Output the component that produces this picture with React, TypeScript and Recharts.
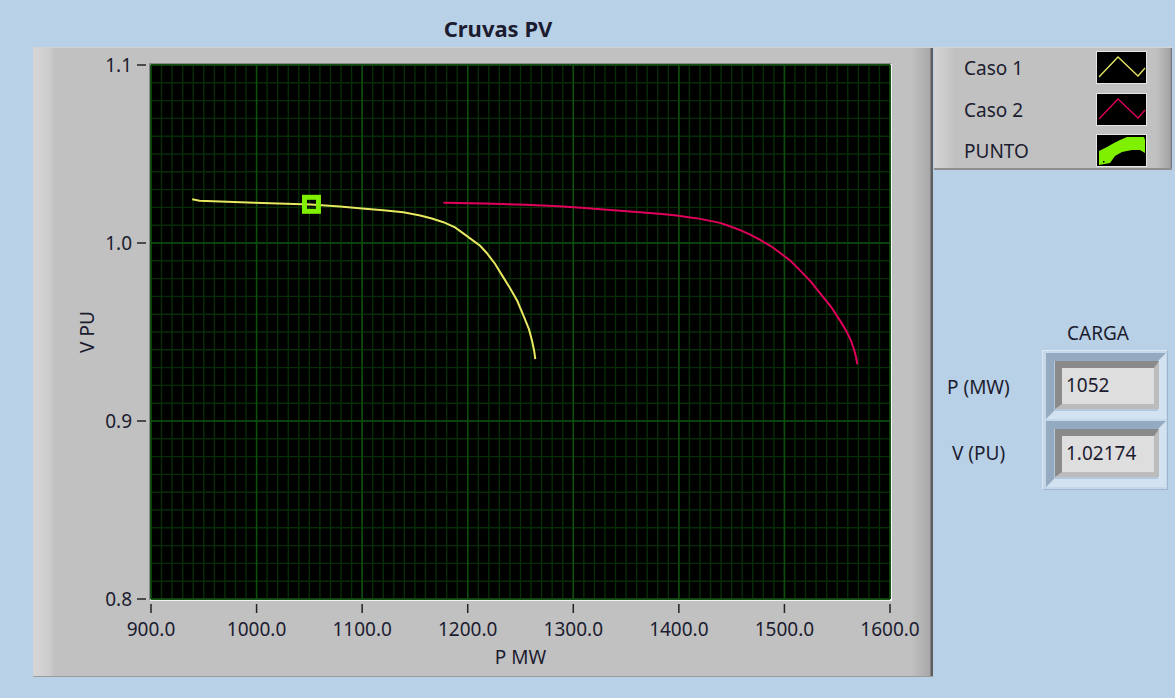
import React from 'react'
import { ComposedChart, Line, Scatter, XAxis, YAxis, CartesianGrid } from 'recharts'

// curva PV, caso 1 (P en MW, V en pu)
const caso1P = [939, 946, 998, 1051, 1079, 1100, 1120, 1139, 1155, 1166, 1177, 1188, 1200, 1212, 1218, 1226, 1233, 1240, 1247, 1253, 1258, 1261, 1263, 1264]
const caso1V = [1.0246, 1.0238, 1.0226, 1.0216, 1.0205, 1.0194, 1.0184, 1.0173, 1.0155, 1.0138, 1.0117, 1.0088, 1.0036, 0.9983, 0.9944, 0.9882, 0.9814, 0.9747, 0.9674, 0.9589, 0.9516, 0.9449, 0.9392, 0.9347]

// curva PV, caso 2
const caso2P = [1177, 1215, 1254, 1286, 1311, 1335, 1360, 1384, 1398, 1409, 1419, 1439, 1449, 1458, 1468, 1477, 1487, 1496, 1506, 1515, 1525, 1534, 1544, 1553, 1559, 1563, 1566, 1568, 1569]
const caso2V = [1.0226, 1.0222, 1.0215, 1.0207, 1.0197, 1.0186, 1.0174, 1.0163, 1.0154, 1.0145, 1.0137, 1.0113, 1.0093, 1.0072, 1.0046, 1.0017, 0.9983, 0.9944, 0.9899, 0.9845, 0.9783, 0.9716, 0.9643, 0.9561, 0.9502, 0.9452, 0.94, 0.9355, 0.9319]

// punto de carga actual
const cargaP = 1052
const cargaV = 1.02174

const xTicks = [900, 1000, 1100, 1200, 1300, 1400, 1500, 1600]
const yTicks = [0.8, 0.9, 1.0, 1.1]
// rejilla fina: cada 10 MW y cada 0.01 pu
const xMinor = Array.from({ length: 71 }, (_, i) => 900 + i * 10)
const yMinor = Array.from({ length: 31 }, (_, i) => Math.round((0.8 + i * 0.01) * 1000) / 1000)

const caso1 = caso1P.map((p, i) => ({ p, v: caso1V[i] }))
const caso2 = caso2P.map((p, i) => ({ p, v: caso2V[i] }))
const punto = [{ p: cargaP, v: cargaV }]

const FONT = '"Noto Sans", "Open Sans", sans-serif'
const INK = '#1c1c30'
const YELLOW = '#e8e860'
const RED = '#e0005c'
const GREEN = '#7ff000'

const YTick = (props: any) => {
  const { x, y, payload } = props
  return (
    <g>
      <line x1={x + 5} x2={x + 14} y1={y} y2={y} stroke="#222" strokeWidth={1.5} />
      <text x={x} y={y} dy="0.35em" textAnchor="end" fill={INK} fontSize={19} fontFamily={FONT}>
        {Number(payload.value).toFixed(1)}
      </text>
    </g>
  )
}

const XTick = (props: any) => {
  const { x, y, payload } = props
  return (
    <g>
      <line x1={x} x2={x} y1={y - 9} y2={y} stroke="#222" strokeWidth={1.5} />
      <text x={x} y={y + 23} textAnchor="middle" fill={INK} fontSize={19} fontFamily={FONT}>
        {Number(payload.value).toFixed(1)}
      </text>
    </g>
  )
}

const PuntoShape = (props: any) => {
  const { cx, cy } = props
  return <rect x={cx - 7} y={cy - 7} width={14} height={14} fill="none" stroke={GREEN} strokeWidth={5} />
}

const Swatch: React.FC<{ kind: string; color: string }> = ({ kind, color }) => (
  <svg width={51} height={33} style={{ display: 'block' }}>
    <rect x={0.5} y={0.5} width={50} height={32} fill="#000" stroke="#e4e4e4" strokeWidth={1} />
    {kind === 'line' ? (
      <polyline points="3,26 22,6 42,25 49,17" fill="none" stroke={color} strokeWidth={1.3} />
    ) : (
      <g>
        <path
          d="M3,17 L11,13 L18,9 L24,6 L31,3 L48,3 L49,6 L49,19 L44,16 L36,16 L26,18 L19,22 L14,29 L3,31 Z"
          fill={color}
        />
        <rect x={7} y={27} width={1.5} height={1.5} fill="#000" />
      </g>
    )}
  </svg>
)

const legendItems = [
  { name: 'Caso 1', kind: 'line', color: YELLOW },
  { name: 'Caso 2', kind: 'line', color: RED },
  { name: 'PUNTO', kind: 'fill', color: GREEN },
]

const Indicator: React.FC<{ top: number; value: string }> = ({ top, value }) => (
  <div
    style={{
      position: 'absolute',
      left: 1046,
      top,
      width: 104,
      height: 50,
      borderStyle: 'solid',
      borderWidth: 8,
      borderColor: '#93aac0 #d3e2f0 #d3e2f0 #93aac0',
      background: '#b3c8dc',
    }}
  >
    <div
      style={{
        position: 'absolute',
        left: 1,
        top: 0,
        width: 88,
        height: 36,
        borderStyle: 'solid',
        borderWidth: '7px 5px 5px 7px',
        borderColor: '#8a8a8a #bcbcbc #bcbcbc #8a8a8a',
        background: '#dedede',
        fontFamily: FONT,
        fontSize: 19,
        lineHeight: '34px',
        color: INK,
        paddingLeft: 4,
        boxSizing: 'content-box',
      }}
    >
      {value}
    </div>
  </div>
)

const App: React.FC = () => {
  return (
    <div
      style={{
        position: 'absolute',
        left: 0,
        top: 0,
        width: 1175,
        height: 698,
        background: '#b9d1e6',
        overflow: 'hidden',
        fontFamily: FONT,
        color: INK,
      }}
    >
      {/* panel gris del grafico */}
      <div
        style={{
          position: 'absolute',
          left: 33,
          top: 47,
          width: 900,
          height: 630,
          background:
            'linear-gradient(to right, #d6d6d6 0px, #cdcdcd 16px, #c1c1c1 22px, #c1c1c1 878px, #a8a8a8 897px, #5e5e5e 898px, #5e5e5e 900px)',
          borderTop: '1px solid #d2d2d2',
          borderBottom: '1px solid #9c9c9c',
          boxSizing: 'border-box',
        }}
      />
      <div
        style={{
          position: 'absolute',
          left: 398,
          top: 14,
          width: 200,
          textAlign: 'center',
          fontWeight: 700,
          fontSize: 22,
          lineHeight: '28px',
        }}
      >
        Cruvas PV
      </div>
      {/* marco hundido del area de trazado */}
      <div
        style={{
          position: 'absolute',
          left: 149,
          top: 63,
          width: 739,
          height: 534,
          borderStyle: 'solid',
          borderWidth: 2,
          borderColor: '#8a8a8a #f2f2f2 #f2f2f2 #8a8a8a',
        }}
      />
      <div style={{ position: 'absolute', left: 0, top: 0 }}>
        <ComposedChart
          width={1175}
          height={698}
          margin={{ top: 65, right: 285, bottom: 29, left: 23 }}
          style={{ fontFamily: FONT }}
        >
          <CartesianGrid fill="#000" stroke="#072d07" strokeWidth={1.4} verticalValues={xMinor} horizontalValues={yMinor} />
          <CartesianGrid stroke="#0e4e0e" strokeWidth={1.5} />
          <XAxis
            type="number"
            dataKey="p"
            domain={[900, 1600]}
            ticks={xTicks}
            interval={0}
            allowDataOverflow
            height={70}
            tickSize={4}
            tickMargin={10}
            tickLine={false}
            axisLine={false}
            tick={<XTick />}
            label={{ value: 'P MW', position: 'insideBottom', offset: 5, fill: INK, fontSize: 19, fontFamily: FONT }}
          />
          <YAxis
            type="number"
            dataKey="v"
            domain={[0.8, 1.1]}
            ticks={yTicks}
            interval={0}
            allowDataOverflow
            width={128}
            tickSize={4}
            tickMargin={15}
            tickLine={false}
            axisLine={false}
            tick={<YTick />}
            label={{ value: 'V PU', angle: -90, position: 'center', fill: INK, fontSize: 19, fontFamily: FONT }}
          />
          <Line data={caso1} dataKey="v" name="Caso 1" type="linear" stroke={YELLOW} strokeWidth={2} dot={false} isAnimationActive={false} />
          <Line data={caso2} dataKey="v" name="Caso 2" type="linear" stroke={RED} strokeWidth={2} dot={false} isAnimationActive={false} />
          <Scatter data={punto} dataKey="v" name="PUNTO" fill={GREEN} shape={<PuntoShape />} isAnimationActive={false} />
        </ComposedChart>
      </div>
      {/* leyenda */}
      <div
        style={{
          position: 'absolute',
          left: 934,
          top: 47,
          width: 238,
          height: 123,
          background:
            'linear-gradient(to right, #d4d4d4 0px, #c9c9c9 14px, #c1c1c1 20px, #c1c1c1 222px, #a4a4a4 236px, #6a6a6a 238px)',
          borderBottom: '2px solid #8e8e8e',
          borderTop: '1px solid #d4d4d4',
          boxSizing: 'border-box',
        }}
      >
        {legendItems.map((it, i) => (
          <div key={it.name} style={{ position: 'absolute', left: 0, top: 3 + i * 41.5, width: 238, height: 34 }}>
            <div style={{ position: 'absolute', left: 30, top: 0, fontSize: 19, lineHeight: '34px' }}>{it.name}</div>
            <div style={{ position: 'absolute', left: 162, top: 0 }}>
              <Swatch kind={it.kind} color={it.color} />
            </div>
          </div>
        ))}
      </div>
      {/* indicadores de carga */}
      <div style={{ position: 'absolute', left: 1048, top: 319, width: 100, textAlign: 'center', fontSize: 19, lineHeight: '28px' }}>
        CARGA
      </div>
      <div
        style={{
          position: 'absolute',
          left: 1042,
          top: 350,
          width: 126,
          height: 140,
          background: '#c4d8ea',
          borderStyle: 'solid',
          borderWidth: 1,
          borderColor: '#dbe8f3 #9fb6cc #9fb6cc #dbe8f3',
          boxSizing: 'border-box',
        }}
      />
      <Indicator top={353} value={String(cargaP)} />
      <Indicator top={421} value={String(cargaV)} />
      <div style={{ position: 'absolute', left: 947, top: 373, fontSize: 19, lineHeight: '28px' }}>P (MW)</div>
      <div style={{ position: 'absolute', left: 952, top: 439, fontSize: 19, lineHeight: '28px' }}>V (PU)</div>
    </div>
  )
}

export default App
